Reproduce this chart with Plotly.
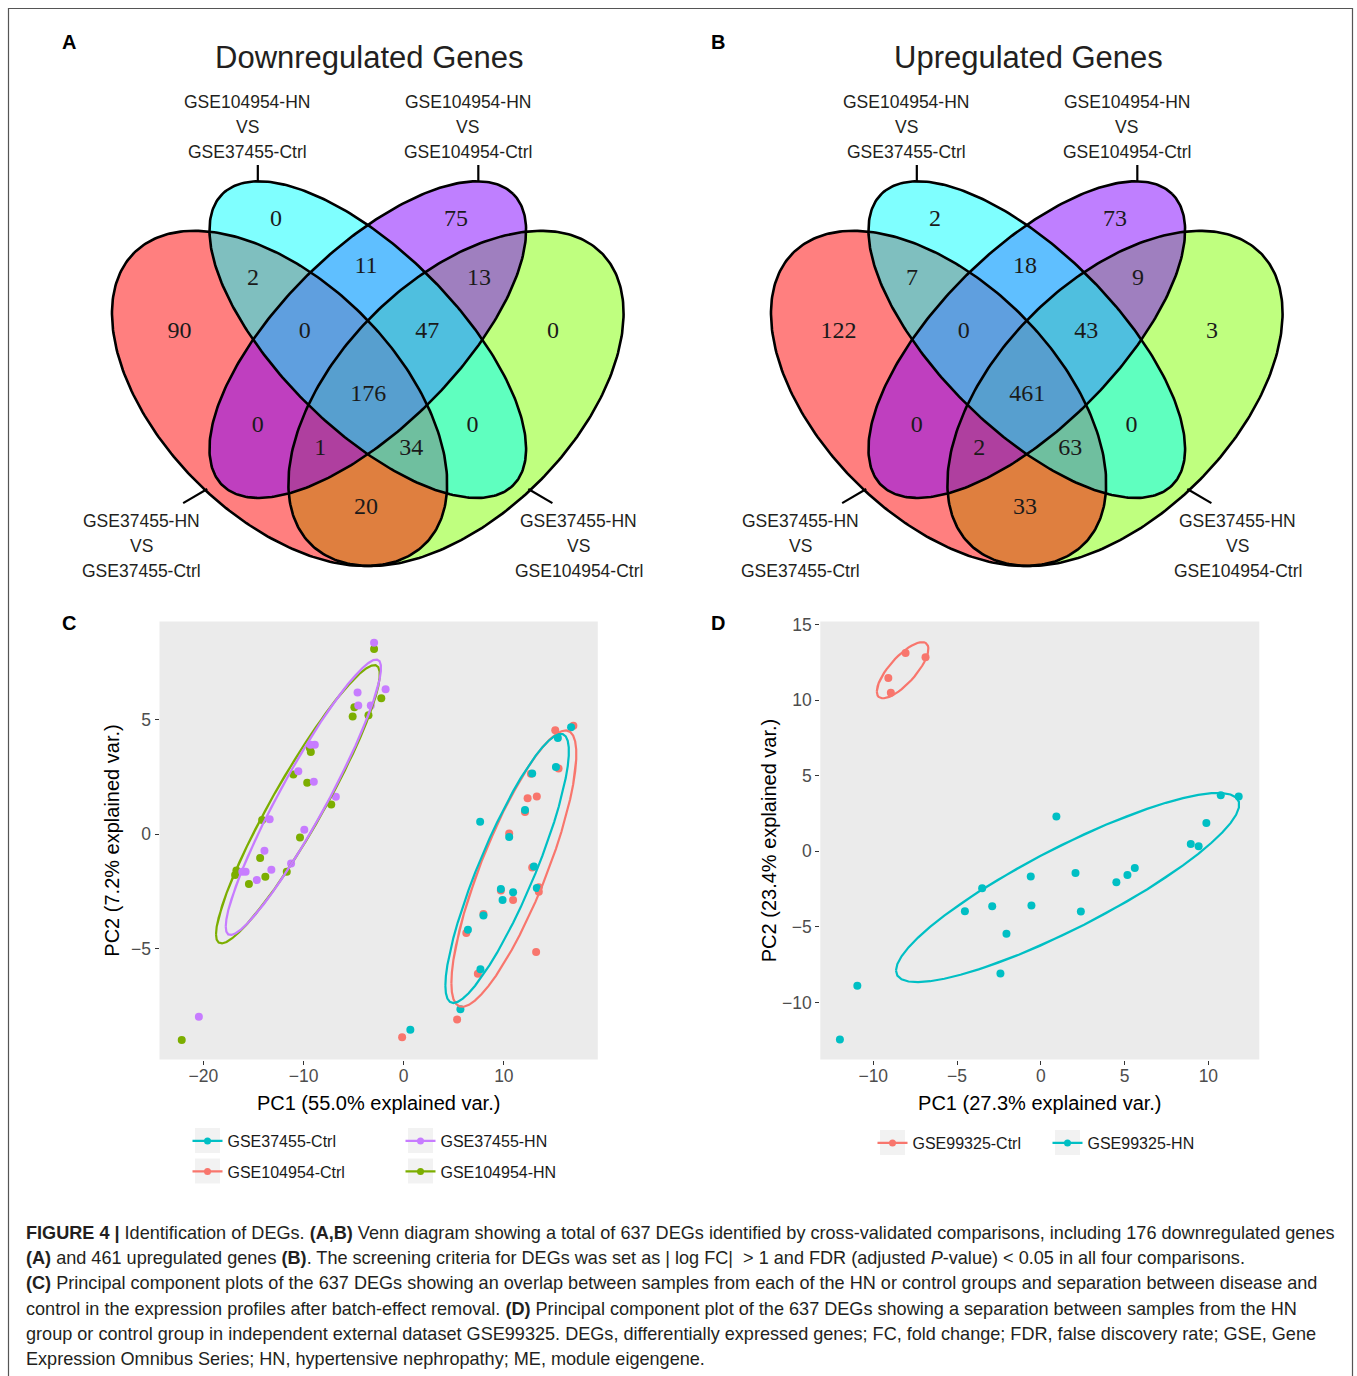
import numpy as np
import plotly.graph_objects as go

W, H = 1357, 1376

# ---------------- Venn data ----------------
SET_LABELS = [
    ["GSE37455-HN", "VS", "GSE37455-Ctrl"],      # red set (bottom-left label)
    ["GSE104954-HN", "VS", "GSE37455-Ctrl"],     # cyan set (top-left label)
    ["GSE104954-HN", "VS", "GSE104954-Ctrl"],    # purple set (top-right label)
    ["GSE37455-HN", "VS", "GSE104954-Ctrl"],     # green set (bottom-right label)
]
REGIONS = ["R", "C", "P", "G", "RC", "CP", "PG", "RCP", "CPG", "RCPG", "RP", "CG", "RPG", "RCG", "RG"]
DOWN_COUNTS = [90, 0, 75, 0, 2, 11, 13, 0, 47, 176, 0, 0, 1, 34, 20]
UP_COUNTS = [122, 2, 73, 3, 7, 18, 9, 0, 43, 461, 0, 0, 2, 63, 33]
VENN_TITLES = ["Downregulated Genes", "Upregulated Genes"]

# ---------------- PCA data (panel C) ----------------
C_CTRL37455_X = [16.71, 15.39, 15.20, 12.83, 7.63, 12.11, 10.53, 13.00, 13.29, 9.70, 9.87, 10.92, 7.96, 6.41, 7.66, 5.66, 0.66]
C_CTRL37455_Y = [4.67, 4.20, 2.93, 2.65, 0.54, 1.06, -0.12, -1.41, -2.35, -2.39, -2.87, -2.54, -3.55, -4.17, -5.90, -7.64, -8.54]
C_HN37455_X = [-2.96, -1.81, -4.61, -4.54, -3.29, -8.88, -9.31, -10.53, -8.98, -6.78, -13.39, -9.93, -13.91, -13.22, -11.25, -15.79, -16.12, -14.67, -20.46]
C_HN37455_Y = [8.36, 6.33, 6.19, 5.62, 5.62, 3.91, 3.91, 2.75, 2.29, 1.64, 0.65, 0.19, -0.72, -1.55, -1.28, -1.64, -1.64, -2.00, -7.97]
C_CTRL104954_X = [16.94, 15.13, 15.46, 12.70, 13.29, 12.37, 12.11, 10.53, 12.83, 13.49, 13.49, 9.70, 10.92, 7.96, 6.25, 13.22, 7.40, 5.33, -0.16]
C_CTRL104954_Y = [4.74, 4.54, 2.87, 2.64, 1.65, 1.57, 0.97, 0.03, -1.45, -2.32, -2.51, -2.46, -2.87, -3.48, -4.32, -5.14, -6.09, -8.09, -8.87]
C_HN104954_X = [-2.96, -2.24, -4.93, -5.10, -3.52, -9.38, -9.28, -9.64, -11.02, -7.24, -14.14, -10.36, -14.34, -11.68, -13.82, -16.71, -16.84, -15.46, -22.17]
C_HN104954_Y = [8.09, 5.94, 5.55, 5.14, 5.19, 3.77, 3.59, 2.25, 2.61, 1.30, 0.62, -0.14, -1.04, -1.64, -1.86, -1.59, -1.78, -2.17, -8.99]
C_GROUPS = ["GSE37455-Ctrl", "GSE37455-HN", "GSE104954-Ctrl", "GSE104954-HN"]

# ---------------- PCA data (panel D) ----------------
D_CTRL_X = [-9.10, -8.07, -6.88, -8.95]
D_CTRL_Y = [11.47, 13.12, 12.84, 10.48]
D_HN_X = [0.93, 10.74, 11.81, 9.88, 8.95, 9.42, 2.07, 5.61, 5.17, 4.51, -0.60, -3.50, -4.53, -2.90, -0.56, 2.39, -2.05, -2.41, -10.95, -11.99]
D_HN_Y = [2.31, 3.71, 3.63, 1.87, 0.48, 0.33, -1.43, -1.10, -1.56, -2.04, -1.67, -2.44, -3.96, -3.63, -3.58, -3.98, -5.45, -8.09, -8.90, -12.44]
D_GROUPS = ["GSE99325-Ctrl", "GSE99325-HN"]

C_XTICKS = [-20, -10, 0, 10]
C_YTICKS = [-5, 0, 5]
D_XTICKS = [-10, -5, 0, 5, 10]
D_YTICKS = [-10, -5, 0, 5, 10, 15]
C_XTITLE = "PC1 (55.0% explained var.)"
C_YTITLE = "PC2 (7.2% explained var.)"
D_XTITLE = "PC1 (27.3% explained var.)"
D_YTITLE = "PC2 (23.4% explained var.)"

CAPTION = [
    "<b>FIGURE 4 |</b> Identification of DEGs. <b>(A,B)</b> Venn diagram showing a total of 637 DEGs identified by cross-validated comparisons, including 176 downregulated genes",
    "<b>(A)</b> and 461 upregulated genes <b>(B)</b>. The screening criteria for DEGs was set as | log FC|\u00a0\u00a0&gt; 1 and FDR (adjusted <i>P</i>-value) &lt; 0.05 in all four comparisons.",
    "<b>(C)</b> Principal component plots of the 637 DEGs showing an overlap between samples from each of the HN or control groups and separation between disease and",
    "control in the expression profiles after batch-effect removal. <b>(D)</b> Principal component plot of the 637 DEGs showing a separation between samples from the HN",
    "group or control group in independent external dataset GSE99325. DEGs, differentially expressed genes; FC, fold change; FDR, false discovery rate; GSE, Gene",
    "Expression Omnibus Series; HN, hypertensive nephropathy; ME, module eigengene.",
]

# ---------------- styles / layout constants ----------------
SANS = "Liberation Sans, Arial, sans-serif"
SERIF = "Liberation Serif, Times New Roman, serif"
COL_RED, COL_GREEN, COL_TEAL, COL_PURPLE = "#F8766D", "#7CAE00", "#00BFC4", "#C77CFF"
C_COLORS = [COL_TEAL, COL_PURPLE, COL_RED, COL_GREEN]
D_COLORS = [COL_RED, COL_TEAL]

# Venn ellipse geometry (unit square), draw order for fills
VENN_ELL = {
    "red": (0.35, 0.47, 0.35, 0.20, 135),
    "cyan": (0.50, 0.57, 0.35, 0.15, 135),
    "purple": (0.50, 0.57, 0.35, 0.15, 45),
    "green": (0.65, 0.47, 0.35, 0.20, 45),
}
VENN_FILL = {"red": "rgba(255,0,0,0.5)", "cyan": "rgba(0,255,255,0.5)",
             "purple": "rgba(128,0,255,0.5)", "green": "rgba(128,255,0,0.5)"}
FILL_ORDER = ["green", "red", "purple", "cyan"]
LABEL_POS = [(0.180, 0.586), (0.344, 0.777), (0.650, 0.777), (0.815, 0.586),
             (0.305, 0.676), (0.497, 0.697), (0.689, 0.676), (0.393, 0.586),
             (0.601, 0.586), (0.501, 0.478), (0.313, 0.426), (0.678, 0.426),
             (0.419, 0.387), (0.574, 0.387), (0.497, 0.287)]
LABEL_DY = -0.003
SETLABEL_POS = [(0.116, 0.221), (0.295, 0.933), (0.670, 0.933), (0.859, 0.221)]
LEADERS = [((0.186, 0.292), (0.227, 0.316)), ((0.313, 0.839), (0.313, 0.867)),
           ((0.688, 0.839), (0.688, 0.867)), ((0.773, 0.316), (0.814, 0.292))]

VENN_SCALE = 588.0
VENN_X0_PX = [112 - 0.065 * VENN_SCALE, 112 + 659 - 0.065 * VENN_SCALE]
VENN_Y0_PX = 566 + 0.185 * VENN_SCALE  # pixel row of unit y = 0
VENN_XR = [0.0, 1.0]
VENN_YR = [0.12, 0.93]


def pxx(p):
    return p / W


def pxy(p):
    return 1 - p / H


def unit_to_paper(k, ux, uy):
    return pxx(VENN_X0_PX[k] + ux * VENN_SCALE), pxy(VENN_Y0_PX - uy * VENN_SCALE)


def ellipse_param(cx, cy, a, b, rot, n=300):
    t = np.linspace(0, 2 * np.pi, n)
    r = np.radians(rot)
    x = cx + a * np.cos(t) * np.cos(r) - b * np.sin(t) * np.sin(r)
    y = cy + a * np.cos(t) * np.sin(r) + b * np.sin(t) * np.cos(r)
    return x, y


def data_ellipse(x, y, prob=0.68):
    x = np.asarray(x, float)
    y = np.asarray(y, float)
    theta = np.concatenate([np.linspace(-np.pi, np.pi, 50), np.linspace(np.pi, -np.pi, 50)])
    circle = np.column_stack([np.cos(theta), np.sin(theta)])
    ed = np.sqrt(-2 * np.log(1 - prob))
    sigma = np.cov(np.vstack([x, y]))
    R = np.linalg.cholesky(sigma).T
    pts = circle @ R * ed + np.array([x.mean(), y.mean()])
    return pts[:, 0], pts[:, 1]


fig = go.Figure()
annotations = []
shapes = []

# ---------------- Venn diagrams ----------------
for k, counts in enumerate([DOWN_COUNTS, UP_COUNTS]):
    xa = "x" if k == 0 else "x2"
    ya = "y" if k == 0 else "y2"
    for name in FILL_ORDER:
        ex, ey = ellipse_param(*VENN_ELL[name])
        fig.add_trace(go.Scatter(x=ex, y=ey, mode="lines", fill="toself", fillcolor=VENN_FILL[name],
                                 line=dict(width=0, color="rgba(0,0,0,0)"), hoverinfo="skip",
                                 showlegend=False, xaxis=xa, yaxis=ya))
    for name in ["red", "cyan", "purple", "green"]:
        ex, ey = ellipse_param(*VENN_ELL[name])
        fig.add_trace(go.Scatter(x=ex, y=ey, mode="lines", line=dict(width=2.6, color="black"),
                                 hoverinfo="skip", showlegend=False, xaxis=xa, yaxis=ya))
    for (p0, p1) in LEADERS:
        fig.add_trace(go.Scatter(x=[p0[0], p1[0]], y=[p0[1], p1[1]], mode="lines",
                                 line=dict(width=2.2, color="black"), hoverinfo="skip",
                                 showlegend=False, xaxis=xa, yaxis=ya))
    fig.add_trace(go.Scatter(x=[p[0] for p in LABEL_POS], y=[p[1] + LABEL_DY for p in LABEL_POS],
                             text=[str(c) for c in counts], mode="text",
                             textfont=dict(family=SERIF, size=24, color="#1a1a1a"),
                             hoverinfo="skip", showlegend=False, xaxis=xa, yaxis=ya, cliponaxis=False))
    for lbl, pos in zip(SET_LABELS, SETLABEL_POS):
        lx, ly = unit_to_paper(k, pos[0], pos[1])
        for j, line in enumerate(lbl):
            annotations.append(dict(x=lx, y=ly, xref="paper", yref="paper", text=line, showarrow=False,
                                    xanchor="center", yanchor="middle", yshift=(1 - j) * 24.7 - 1,
                                    font=dict(family=SANS, size=17.5, color="#231F20")))
    annotations.append(dict(x=pxx(369 + 659 * k), y=pxy(57), xref="paper", yref="paper",
                            text=VENN_TITLES[k], showarrow=False, xanchor="center", yanchor="middle",
                            font=dict(family=SANS, size=31, color="#231F20")))

# ---------------- PCA panel C ----------------
c_data = [(C_CTRL37455_X, C_CTRL37455_Y), (C_HN37455_X, C_HN37455_Y),
          (C_CTRL104954_X, C_CTRL104954_Y), (C_HN104954_X, C_HN104954_Y)]
draw_order_c = [2, 3, 0, 1]
for i in draw_order_c:
    gx, gy = c_data[i]
    fig.add_trace(go.Scatter(x=gx, y=gy, mode="markers", marker=dict(size=8, color=C_COLORS[i]),
                             name=C_GROUPS[i], showlegend=False, xaxis="x3", yaxis="y3"))
for i in draw_order_c:
    gx, gy = c_data[i]
    ex, ey = data_ellipse(gx, gy)
    fig.add_trace(go.Scatter(x=ex, y=ey, mode="lines", line=dict(width=2.2, color=C_COLORS[i]),
                             hoverinfo="skip", showlegend=False, xaxis="x3", yaxis="y3"))

# ---------------- PCA panel D ----------------
d_data = [(D_CTRL_X, D_CTRL_Y), (D_HN_X, D_HN_Y)]
for i, (gx, gy) in enumerate(d_data):
    fig.add_trace(go.Scatter(x=gx, y=gy, mode="markers", marker=dict(size=8, color=D_COLORS[i]),
                             name=D_GROUPS[i], showlegend=False, xaxis="x4", yaxis="y4"))
for i, (gx, gy) in enumerate(d_data):
    ex, ey = data_ellipse(gx, gy)
    fig.add_trace(go.Scatter(x=ex, y=ey, mode="lines", line=dict(width=2.2, color=D_COLORS[i]),
                             hoverinfo="skip", showlegend=False, xaxis="x4", yaxis="y4"))

# ---------------- legends ----------------
LEGEND_KEYS = [(207.5, 1140.5), (420.5, 1140.5), (207.5, 1171.0), (420.5, 1171.0),
               (892.5, 1142.5), (1067.5, 1142.5)]
legend_entries = [(C_GROUPS[i], C_COLORS[i], "x3", "y3") for i in range(4)] + \
                 [(D_GROUPS[i], D_COLORS[i], "x4", "y4") for i in range(2)]
legend_layouts = {}
for n, ((name, col, xa, ya), (kx, ky)) in enumerate(zip(legend_entries, LEGEND_KEYS)):
    lname = "legend" if n == 0 else f"legend{n + 1}"
    fig.add_trace(go.Scatter(x=[None], y=[None], mode="lines+markers", name=name,
                             line=dict(color=col, width=2.2), marker=dict(color=col, size=7),
                             legend=lname, showlegend=True, xaxis=xa, yaxis=ya))
    legend_layouts[lname] = dict(x=pxx(kx - 20), y=pxy(ky + 0.5), xanchor="left", yanchor="middle",
                                 bgcolor="rgba(0,0,0,0)", borderwidth=0, itemwidth=30,
                                 font=dict(family=SANS, size=16, color="#1a1a1a"))
    shapes.append(dict(type="rect", xref="paper", yref="paper", x0=pxx(kx - 12.5), x1=pxx(kx + 12.5),
                       y0=pxy(ky + 12.5), y1=pxy(ky - 12.5), fillcolor="#F2F2F2",
                       line=dict(width=0), layer="below"))

# ---------------- panel letters, caption, frame ----------------
for letter, (lx, ly) in zip("ABCD", [(69, 42), (718, 42), (69, 623), (718, 623)]):
    annotations.append(dict(x=pxx(lx), y=pxy(ly), xref="paper", yref="paper", text=f"<b>{letter}</b>",
                            showarrow=False, xanchor="center", yanchor="middle",
                            font=dict(family=SANS, size=20, color="black")))
for j, line in enumerate(CAPTION):
    annotations.append(dict(x=pxx(24), y=pxy(1233 + j * 25.2), xref="paper", yref="paper", text=line,
                            showarrow=False, xanchor="left", yanchor="middle", align="left",
                            font=dict(family=SANS, size=18.1, color="#231F20")))

shapes.append(dict(type="rect", xref="paper", yref="paper", x0=pxx(8.5), x1=pxx(1352.5),
                   y0=pxy(1390), y1=pxy(8.5), line=dict(color="#555555", width=1.2),
                   fillcolor="rgba(0,0,0,0)", layer="above"))
for xa in ["x3", "x4"]:
    ya = "y" + xa[1:]
    shapes.append(dict(type="rect", xref=f"{xa} domain", yref=f"{ya} domain", x0=0, x1=1, y0=0, y1=1,
                       fillcolor="#EBEBEB", line=dict(width=0), layer="below"))

# ---------------- axes ----------------
def venn_axes(k):
    x0 = VENN_X0_PX[k]
    xd = [pxx(x0 + VENN_XR[0] * VENN_SCALE), pxx(x0 + VENN_XR[1] * VENN_SCALE)]
    yd = [pxy(VENN_Y0_PX - VENN_YR[0] * VENN_SCALE), pxy(VENN_Y0_PX - VENN_YR[1] * VENN_SCALE)]
    ax = dict(visible=False, range=VENN_XR, domain=xd, fixedrange=True, automargin=False)
    ay = dict(visible=False, range=VENN_YR, domain=yd, fixedrange=True, automargin=False)
    return ax, ay


vxa, vya = venn_axes(0)
vxb, vyb = venn_axes(1)

PCA_YDOM = [pxy(1059.5), pxy(621.5)]
tickstyle = dict(showgrid=False, zeroline=False, showline=False, ticks="outside", ticklen=4,
                 tickwidth=1.1, tickcolor="#333333", automargin=False,
                 tickfont=dict(family=SANS, size=17.5, color="#4D4D4D"), fixedrange=True)
title_font = dict(family=SANS, size=20, color="black")

fig.update_layout(
    width=W, height=H, margin=dict(l=0, r=0, t=0, b=0, autoexpand=False),
    paper_bgcolor="white", plot_bgcolor="rgba(0,0,0,0)",
    xaxis=vxa, yaxis=vya, xaxis2=vxb, yaxis2=vyb,
    xaxis3=dict(domain=[pxx(159.5), pxx(597.8)], range=[-24.39, 19.38], tickvals=C_XTICKS,
                anchor="y3", ticklabelstandoff=-4,
                title=dict(text=C_XTITLE, font=title_font, standoff=11), **tickstyle),
    yaxis3=dict(domain=PCA_YDOM, range=[-9.84, 9.29], tickvals=C_YTICKS, anchor="x3",
                title=dict(text=C_YTITLE, font=title_font, standoff=6), **tickstyle),
    xaxis4=dict(domain=[pxx(820.3), pxx(1259.3)], range=[-13.16, 13.04], tickvals=D_XTICKS,
                anchor="y4", ticklabelstandoff=-4,
                title=dict(text=D_XTITLE, font=title_font, standoff=11), **tickstyle),
    yaxis4=dict(domain=PCA_YDOM, range=[-13.77, 15.2], tickvals=D_YTICKS, anchor="x4",
                title=dict(text=D_YTITLE, font=title_font, standoff=0), **tickstyle),
    annotations=annotations, shapes=shapes, hovermode=False,
    **legend_layouts,
)

fig.write_html("out.html")
